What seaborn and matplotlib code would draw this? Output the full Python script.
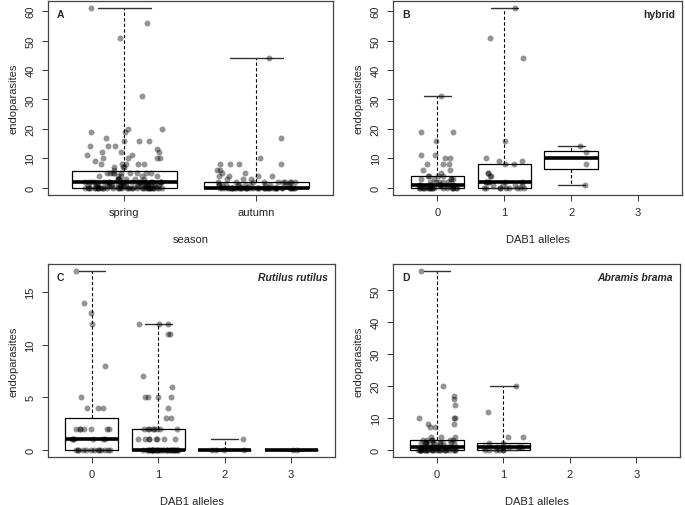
import numpy as np
import pandas as pd
import matplotlib
matplotlib.use('Agg')
import matplotlib.pyplot as plt
import seaborn as sns

# panel A: endoparasites by season
season_labels = ['spring', 'autumn']
spring = [61, 56, 51, 31, 20, 20, 19, 19, 17, 16, 16, 16, 14, 14, 14, 13, 12, 12, 12,
          11, 11, 10, 10, 10, 10, 9, 8, 8, 8, 8, 8, 7, 7, 7, 6] + \
         [5] * 9 + [4] * 5 + [3] * 6 + [2] * 20 + [1] * 25 + [0] * 38
autumn = [44, 17, 10, 8, 8, 8, 8, 6, 6, 5, 5, 4, 4, 4, 4, 3, 3, 3] + \
         [2] * 10 + [1] * 12 + [0] * 44

# DAB1 allele groups
allele_labels = ['0', '1', '2', '3']
hybrid = {
    '0': [31, 19, 19, 16, 11, 11, 10, 10, 8, 8, 8, 6, 6, 5] + [4] * 4 + [3] * 5 +
         [2] * 5 + [1] * 10 + [0] * 19,
    '1': [61, 51, 44, 16, 10, 9, 9, 8, 8, 5, 5, 4, 4] + [2] * 6 + [1] * 4 + [0] * 9,
    '2': [1, 8, 12, 14],
    '3': [],
}
rutilus = {
    '0': [17, 14, 13, 12, 8, 5, 4, 4, 4] + [2] * 7 + [1] * 6 + [0] * 13,
    '1': [12, 12, 12, 11, 11, 7, 6, 5, 5, 5, 5, 4, 3, 3] + [2] * 8 + [1] * 8 + [0] * 32,
    '2': [1, 0, 0, 0, 0],
    '3': [0, 0],
}
abramis = {
    '0': [56, 20, 17, 16, 14, 10, 10, 10, 8, 8, 7, 7, 4, 4, 4] + [3] * 6 + [2] * 12 +
         [1] * 15 + [0] * 25,
    '1': [20, 12, 4, 4, 2, 2] + [1] * 8 + [0] * 6,
    '2': [],
    '3': [],
}


def to_frame(groups):
    rows = []
    for key, vals in groups.items():
        for v in vals:
            rows.append((key, v))
    return pd.DataFrame(rows, columns=['group', 'value'])


def draw_panel(ax, df, order, letter, title=None, italic=False, xlabel='', yticks=None):
    """boxplot with whiskers to min/max plus jittered points on top"""
    sns.boxplot(data=df, x='group', y='value', order=order, ax=ax,
                width=0.8, whis=(0, 100), showfliers=False,
                color='white', linecolor='black', linewidth=0.9,
                medianprops={'linewidth': 2.6, 'color': 'black'},
                whiskerprops={'linestyle': (0, (3, 2)), 'linewidth': 0.8},
                capprops={'linewidth': 1.0, 'color': '#333333'})
    sns.stripplot(data=df, x='group', y='value', order=order, ax=ax,
                  jitter=0.3, color='black', alpha=0.42, size=4.3,
                  linewidth=0, zorder=3)

    n = len(order)
    ax.set_xlim(-0.5 - 0.04 * n, n - 0.5 + 0.04 * n)
    top = df['value'].max()
    ax.set_ylim(-0.04 * top, top * 1.04)
    ax.set_yticks(yticks)
    ax.set_yticklabels([str(t) for t in yticks], rotation=90, va='center')
    ax.set_xlabel(xlabel, fontsize=8, labelpad=12)
    ax.set_ylabel('endoparasites', fontsize=8, labelpad=5)
    ax.tick_params(axis='both', which='major', bottom=True, left=True,
                   direction='out', labelsize=8, length=4, width=0.7,
                   color='#333333', pad=5)
    for sp in ax.spines.values():
        sp.set_visible(True)
        sp.set_color('#444444')
        sp.set_linewidth(0.9)

    ax.text(0.03, 0.96, letter, transform=ax.transAxes, fontsize=7.5,
            fontweight='bold', ha='left', va='top')
    if title:
        ax.text(0.975, 0.96, title, transform=ax.transAxes, fontsize=7.5,
                fontweight='bold', style='italic' if italic else 'normal',
                ha='right', va='top')


sns.set_style('ticks')
plt.rcParams['font.family'] = ['Liberation Sans', 'DejaVu Sans']

np.random.seed(7)
fig = plt.figure(figsize=(6.85, 5.06), dpi=100)
axA = fig.add_axes([0.070, 0.613, 0.416, 0.383])
axB = fig.add_axes([0.574, 0.613, 0.422, 0.383])
axC = fig.add_axes([0.070, 0.095, 0.419, 0.381])
axD = fig.add_axes([0.574, 0.095, 0.419, 0.381])

dfA = to_frame({'spring': spring, 'autumn': autumn})
draw_panel(axA, dfA, season_labels, 'A', xlabel='season', yticks=[0, 10, 20, 30, 40, 50, 60])
draw_panel(axB, to_frame(hybrid), allele_labels, 'B', title='hybrid',
           xlabel='DAB1 alleles', yticks=[0, 10, 20, 30, 40, 50, 60])
draw_panel(axC, to_frame(rutilus), allele_labels, 'C', title='Rutilus rutilus', italic=True,
           xlabel='DAB1 alleles', yticks=[0, 5, 10, 15])
draw_panel(axD, to_frame(abramis), allele_labels, 'D', title='Abramis brama', italic=True,
           xlabel='DAB1 alleles', yticks=[0, 10, 20, 30, 40, 50])

fig.savefig('out.png', dpi=100)
